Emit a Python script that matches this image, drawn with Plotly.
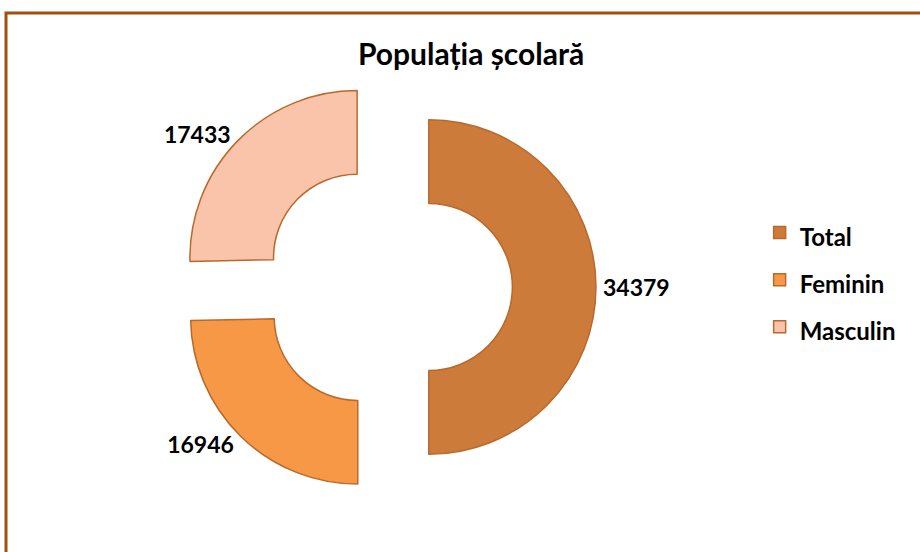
import plotly.graph_objects as go

categories = ["Total", "Feminin", "Masculin"]
values = [34379, 16946, 17433]
colors = ["#CC7B3A", "#F79846", "#F9C4A9"]

legend_labels = [f"<span style='font-size:24px'><b>{c}</b></span>" for c in categories]

fig = go.Figure()
fig.add_trace(go.Pie(
    labels=legend_labels,
    values=values,
    text=[f"<b>{v}</b>" for v in values],
    textinfo="text",
    textposition="outside",
    textfont=dict(family="Lato", size=23, color="black"),
    hole=0.5,
    pull=[0.25, 0.25, 0.25],
    sort=False,
    direction="clockwise",
    rotation=0,
    marker=dict(colors=colors, line=dict(color="#B8692C", width=1.5)),
    domain=dict(x=[0.1935, 0.6478], y=[0.0996, 0.8605]),
    showlegend=True,
))

fig.update_layout(
    width=920, height=552,
    margin=dict(l=0, r=0, t=0, b=0, autoexpand=False),
    paper_bgcolor="white",
    plot_bgcolor="white",
    font=dict(family="Lato", color="black"),
    title=dict(text="<b>Populația școlară</b>", x=0.512, xanchor="center",
               y=0.9005, yanchor="middle", font=dict(family="Lato", size=30, color="black")),
    legend=dict(x=0.8257, y=0.493, xanchor="left", yanchor="middle",
                font=dict(family="Lato", size=34, color="black"),
                itemwidth=30, bgcolor="rgba(0,0,0,0)"),
    shapes=[dict(type="rect", xref="paper", yref="paper",
                 x0=6 / 920, x1=1.05, y0=-0.05, y1=1 - 13 / 552,
                 line=dict(color="#A34F10", width=3), fillcolor="rgba(0,0,0,0)",
                 layer="above")],
)

fig.write_html("out.html",
               config={"displayModeBar": False},
               post_script="document.body.style.margin='0';document.body.style.overflow='hidden';")
